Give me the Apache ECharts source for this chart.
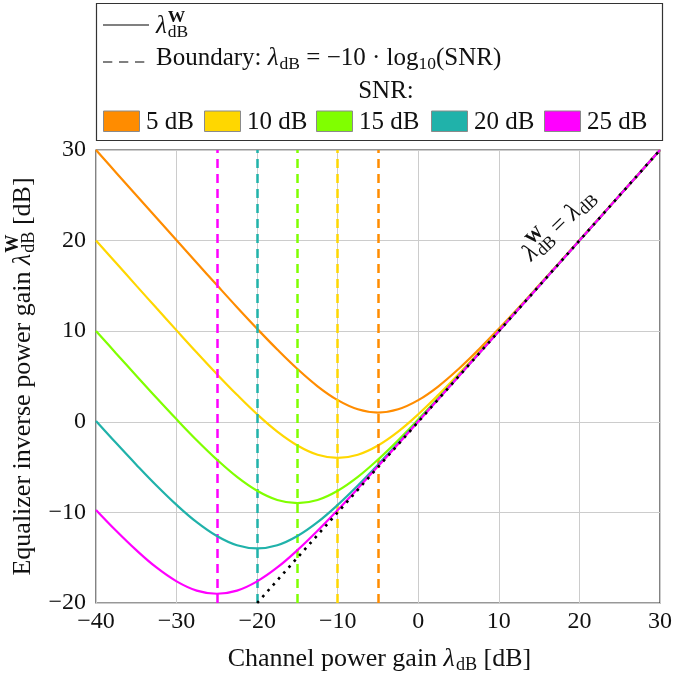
<!DOCTYPE html>
<html><head><meta charset="utf-8">
<script src="https://cdn.jsdelivr.net/npm/echarts@6/dist/echarts.min.js"></script>
<style>html,body{margin:0;padding:0;background:#fff}#c{width:675px;height:677px}</style>
</head><body><div id="c"></div>
<script>
// ---- data ----
const xValues = [-40, -37.5, -35, -32.5, -30, -27.5, -25, -22.5, -20, -17.5, -15, -12.5, -10, -7.5, -5, -2.5, 0, 2.5, 5, 7.5, 10, 12.5, 15, 17.5, 20, 22.5, 25, 27.5, 30];
const snrLabels = ['5 dB', '10 dB', '15 dB', '20 dB', '25 dB'];
const boundaries = [-5, -10, -15, -20, -25];
const gainSnr5  = [30.0, 27.5, 25.01, 22.52, 20.03, 17.55, 15.09, 12.65, 10.27, 7.98, 5.83, 3.92, 2.39, 1.38, 1.02, 1.38, 2.39, 3.92, 5.83, 7.98, 10.27, 12.65, 15.09, 17.55, 20.03, 22.52, 25.01, 27.5, 30.0];
const gainSnr10 = [20.01, 17.52, 15.03, 12.55, 10.09, 7.65, 5.27, 2.98, 0.83, -1.08, -2.61, -3.63, -3.98, -3.63, -2.61, -1.08, 0.83, 2.98, 5.27, 7.65, 10.09, 12.55, 15.03, 17.52, 20.01, 22.51, 25.0, 27.5, 30.0];
const gainSnr15 = [10.03, 7.55, 5.09, 2.65, 0.27, -2.03, -4.17, -6.08, -7.61, -8.63, -8.98, -8.63, -7.61, -6.08, -4.17, -2.03, 0.27, 2.65, 5.09, 7.55, 10.03, 12.52, 15.01, 17.51, 20.0, 22.5, 25.0, 27.5, 30.0];
const gainSnr20 = [0.09, -2.35, -4.73, -7.03, -9.17, -11.08, -12.61, -13.63, -13.98, -13.63, -12.61, -11.08, -9.17, -7.03, -4.73, -2.35, 0.09, 2.55, 5.03, 7.52, 10.01, 12.51, 15.0, 17.5, 20.0, 22.5, 25.0, 27.5, 30.0];
const gainSnr25 = [-9.73, -12.03, -14.17, -16.08, -17.61, -18.63, -18.98, -18.63, -17.61, -16.08, -14.17, -12.03, -9.73, -7.35, -4.91, -2.45, 0.03, 2.52, 5.01, 7.51, 10.0, 12.5, 15.0, 17.5, 20.0, 22.5, 25.0, 27.5, 30.0];
const identityX = [-20, 30];
const identityY = [-20, 30];
const xTickRange = [-40, 30, 10];
const yTickRange = [-20, 30, 10];

// ---- style ----
const colors = ['#FF8C00', '#FFD700', '#80FF00', '#20B2AA', '#FF00FF'];
const FONT = 'Liberation Serif';
const TXT = '#111';
const gains = [gainSnr5, gainSnr10, gainSnr15, gainSnr20, gainSnr25];

const mctx = document.createElement('canvas').getContext('2d');
function fontStr(sz, q) { return (q.it ? 'italic ' : '') + (q.bold ? 'bold ' : '') + sz + 'px "' + FONT + '"'; }
function tw(t, sz, q) { mctx.font = fontStr(sz, q); return mctx.measureText(t).width; }
function mathRun(parts, base) {
  let x = 0; const items = [];
  parts.forEach(p => {
    const grp = p.stack ? p.stack : [p];
    let adv = 0;
    grp.forEach(q => {
      const sz = base * (q.s || 1);
      items.push({ t: q.t, x: x, dy: (q.dy || 0) * base, sz: sz, it: q.it, bold: q.bold });
      adv = Math.max(adv, tw(q.t, sz, q));
    });
    x += adv + (p.gap || 0);
  });
  return { items: items, width: x };
}
function runGraphic(parts, base, px, py, rot, align, z) {
  const r = mathRun(parts, base);
  const off = align === 'center' ? -r.width / 2 : 0;
  return {
    type: 'group', x: px, y: py, rotation: rot || 0, silent: true,
    children: r.items.map(it => ({
      type: 'text', x: it.x + off, y: it.dy - 0.34 * it.sz, z: z || 30,
      style: { text: it.t, fontFamily: FONT, fontSize: it.sz, fontStyle: it.it ? 'italic' : 'normal',
               fontWeight: it.bold ? 'bold' : 'normal', fill: TXT, align: 'left', verticalAlign: 'middle' }
    }))
  };
}
const SUB = (t) => ({ t: t, s: 0.7, dy: 0.12 });
const LAM = { t: 'λ', it: true, gap: 1 };
const lamW = [LAM, { stack: [{ t: 'W', s: 0.7, dy: -0.48, bold: true }, { t: 'dB', s: 0.7, dy: 0.14 }] }];

const fmt = v => (v < 0 ? '\u2212' + Math.abs(v) : String(v));

const series = gains.map((g, i) => ({
  name: snrLabels[i], type: 'line', data: xValues.map((x, j) => [x, g[j]]),
  smooth: 0.4, showSymbol: false, symbol: 'none', clip: true,
  lineStyle: { color: colors[i], width: 2.2 }, itemStyle: { color: colors[i] },
  emphasis: { disabled: true }, z: 3 + i,
  markLine: {
    silent: true, symbol: ['none', 'none'], label: { show: false }, animation: false,
    lineStyle: { color: colors[i], type: [9, 6], width: 2.5 },
    emphasis: { disabled: true },
    data: [{ xAxis: boundaries[i] }]
  }
}));
series.push({
  name: 'identity', type: 'line', data: identityX.map((x, j) => [x, identityY[j]]),
  showSymbol: false, symbol: 'none', z: 10, emphasis: { disabled: true },
  lineStyle: { color: '#000', width: 2.6, type: [2.6, 5.3], cap: 'butt' }
});

const chart = echarts.init(document.getElementById('c'), null, { renderer: 'canvas' });
chart.setOption({
  animation: false,
  backgroundColor: '#fff',
  grid: { left: 96, right: 12, top: 150, bottom: 74, show: true, borderColor: '#333', borderWidth: 1.2, backgroundColor: 'transparent' },
  xAxis: {
    type: 'value', min: xTickRange[0], max: xTickRange[1], interval: xTickRange[2],
    axisLine: { show: false }, axisTick: { show: false },
    splitLine: { show: true, lineStyle: { color: '#cccccc', width: 1 } },
    axisLabel: { formatter: fmt, fontFamily: FONT, fontSize: 24, color: TXT, margin: 7 }
  },
  yAxis: {
    type: 'value', min: yTickRange[0], max: yTickRange[1], interval: yTickRange[2],
    axisLine: { show: false }, axisTick: { show: false },
    splitLine: { show: true, lineStyle: { color: '#cccccc', width: 1 } },
    axisLabel: { formatter: fmt, fontFamily: FONT, fontSize: 24, color: TXT, margin: 10 }
  },
  series: series
});

// ---- text / legend graphics ----
const g = [];
g.push({ type: 'rect', z: 20, shape: { x: 96.5, y: 3.5, width: 566, height: 137 }, style: { fill: '#fff', stroke: '#333', lineWidth: 1.2 } });
g.push({ type: 'line', z: 25, shape: { x1: 103, y1: 25, x2: 149, y2: 25 }, style: { stroke: '#808080', lineWidth: 2.2 } });
g.push(runGraphic(lamW, 25, 156, 35, 0, 'left'));
g.push({ type: 'line', z: 25, shape: { x1: 103, y1: 62, x2: 150, y2: 62 }, style: { stroke: '#808080', lineWidth: 2.2, lineDash: [9.3, 6.7] } });
g.push(runGraphic([{ t: 'Boundary: ' }, LAM, SUB('dB'), { t: ' = \u221210 \u00b7 log' }, SUB('10'), { t: '(SNR)' }], 25, 156, 67, 0, 'left'));
g.push(runGraphic([{ t: 'SNR:' }], 25, 386, 99.5, 0, 'center'));
const swatchX = [103, 204, 316, 431, 544];
snrLabels.forEach((lab, i) => {
  g.push({ type: 'rect', z: 25, shape: { x: swatchX[i] + 0.5, y: 111, width: 36, height: 20.5 }, style: { fill: colors[i], stroke: '#8a8a8a', lineWidth: 1 } });
  g.push(runGraphic([{ t: lab }], 25, swatchX[i] + 43, 130.5, 0, 'left'));
});
// axis names
g.push(runGraphic([{ t: 'Channel power gain ' }, LAM, SUB('dB'), { t: ' [dB]' }], 26, 379.5, 668, 0, 'center'));
g.push(runGraphic([{ t: 'Equalizer inverse power gain ' }].concat(lamW, [{ t: ' [dB]' }]), 26, 32, 376.5, Math.PI / 2, 'center'));
// annotation along identity line
const ap = chart.convertToPixel({ gridIndex: 0 }, [14.2, 17.5]);
g.push(runGraphic(lamW.concat([{ t: ' = ' }, LAM, SUB('dB')]), 25, ap[0], ap[1], 44 * Math.PI / 180, 'left'));

chart.setOption({ graphic: g });
</script>
</body></html>
